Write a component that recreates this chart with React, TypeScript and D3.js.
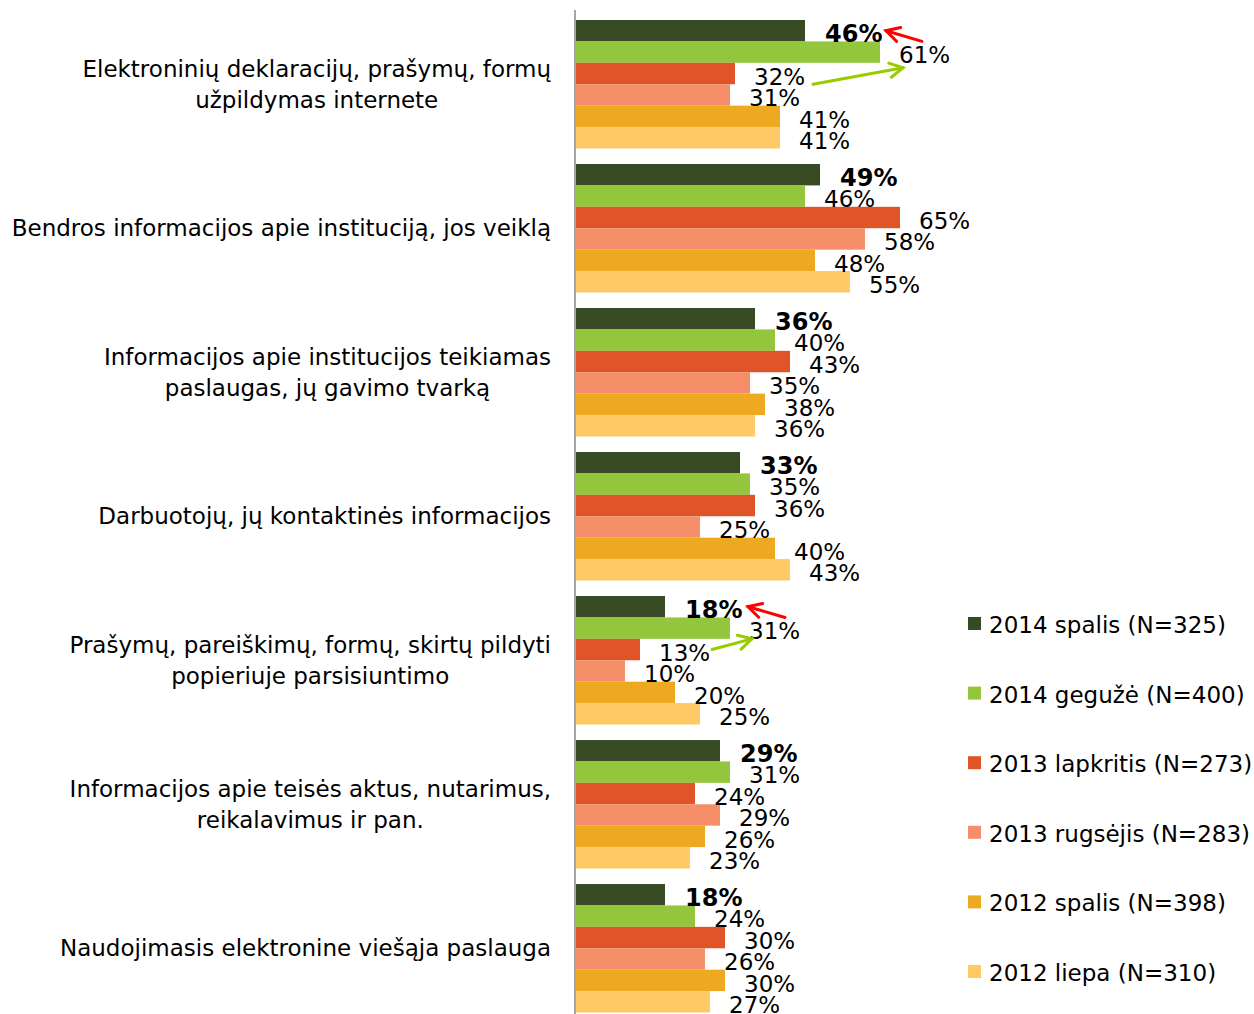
import React from "react";
import * as d3 from "d3";

const categories: string[][] = [
  ["Elektroninių deklaracijų, prašymų, formų", "užpildymas internete"],
  ["Bendros informacijos apie instituciją, jos veiklą"],
  ["Informacijos apie institucijos teikiamas", "paslaugas, jų gavimo tvarką"],
  ["Darbuotojų, jų kontaktinės informacijos"],
  ["Prašymų, pareiškimų, formų, skirtų pildyti", "popieriuje parsisiuntimo"],
  ["Informacijos apie teisės aktus, nutarimus,", "reikalavimus ir pan."],
  ["Naudojimasis elektronine viešąja paslauga"],
];

const seriesNames = [
  "2014 spalis (N=325)",
  "2014 gegužė (N=400)",
  "2013 lapkritis (N=273)",
  "2013 rugsėjis (N=283)",
  "2012 spalis (N=398)",
  "2012 liepa (N=310)",
];

const s2014Oct = [46, 49, 36, 33, 18, 29, 18];
const s2014May = [61, 46, 40, 35, 31, 31, 24];
const s2013Nov = [32, 65, 43, 36, 13, 24, 30];
const s2013Sep = [31, 58, 35, 25, 10, 29, 26];
const s2012Oct = [41, 48, 38, 40, 20, 26, 30];
const s2012Jul = [41, 55, 36, 43, 25, 23, 27];

const seriesValues = [s2014Oct, s2014May, s2013Nov, s2013Sep, s2012Oct, s2012Jul];
const colors = ["#374a23", "#93c63d", "#e05527", "#f68f69", "#eea923", "#ffc966"];

// arrow annotations: tail / tip anchored to a series' bar in a category, with offsets
const arrows = [
  { cat: 0, color: "#ff0000", tail: { s: 1, dx: 42, pos: "top" }, tip: { s: 0, dx: 81, pos: "center" } },
  { cat: 0, color: "#99cc00", tail: { s: 2, dx: 78, pos: "bottom" }, tip: { s: 1, dx: 23, pos: "bottom+5" } },
  { cat: 4, color: "#ff0000", tail: { s: 1, dx: 55, pos: "top" }, tip: { s: 0, dx: 83, pos: "center" } },
  { cat: 4, color: "#99cc00", tail: { s: 2, dx: 72, pos: "center" }, tip: { s: 1, dx: 22, pos: "bottom" } },
];

const W = 1254;
const H = 1014;
const FONT = "'DejaVu Sans', Verdana, sans-serif";

let measureCtx: CanvasRenderingContext2D | null = null;
function textWidth(s: string, size: number): number {
  if (!measureCtx) {
    const c = document.createElement("canvas");
    measureCtx = c.getContext("2d");
  }
  if (!measureCtx) return s.length * size * 0.58;
  measureCtx.font = `${size}px 'DejaVu Sans'`;
  return measureCtx.measureText(s).width;
}

export default function App() {
  const catIdx = categories.map((_, i) => String(i));
  const y = d3.scaleBand<string>().domain(catIdx).range([20, 1012.5]).paddingInner(0.108).paddingOuter(0);
  const yi = d3.scaleBand<string>().domain(seriesNames).range([0, y.bandwidth()]).padding(0);
  const x = d3.scaleLinear().domain([0, 100]).range([575, 1075]);

  const barTop = (c: number, s: number) => (y(String(c)) as number) + (yi(seriesNames[s]) as number);
  const bh = yi.bandwidth();

  const pointFor = (c: number, p: { s: number; dx: number; pos: string }) => {
    const v = seriesValues[p.s][c];
    const t = barTop(c, p.s);
    let yy = t + bh / 2;
    if (p.pos === "top") yy = t;
    if (p.pos === "bottom") yy = t + bh;
    if (p.pos === "bottom+5") yy = t + bh + 5;
    return [x(v) + p.dx, yy];
  };

  const legendY = d3.scalePoint<string>().domain(seriesNames).range([625, 973]);

  return (
    <svg width={W} height={H} style={{ position: "absolute", left: 0, top: 0, background: "#fff" }} fontFamily={FONT}>
      {/* bars */}
      {seriesValues.map((vals, s) =>
        vals.map((v, c) => (
          <rect key={`b${s}-${c}`} x={x(0)} y={barTop(c, s)} width={x(v) - x(0)} height={bh} fill={colors[s]} />
        ))
      )}
      {/* axis line */}
      <line x1={575} x2={575} y1={10} y2={H} stroke="#a6a6a6" strokeWidth={2} />
      {/* data labels */}
      {seriesValues.map((vals, s) =>
        vals.map((v, c) => (
          <text
            key={`l${s}-${c}`}
            x={x(v) + (s === 0 ? 20 : 19)}
            y={barTop(c, s) + bh + 0.5}
            fontSize={s === 0 ? 24 : 23}
            fontWeight={s === 0 ? "bold" : "normal"}
            fill="#000"
          >
            {v}%
          </text>
        ))
      )}
      {/* category labels: block right-aligned, lines centered within block */}
      {categories.map((lines, c) => {
        const center = (y(String(c)) as number) + y.bandwidth() / 2;
        const maxW = Math.max(...lines.map((ln) => textWidth(ln, 23)));
        const cx = 551 - maxW / 2;
        return (
          <text key={`c${c}`} textAnchor="middle" fontSize={23} fill="#000">
            {lines.map((ln, i) => (
              <tspan key={i} x={cx} y={center + 8 + (i - (lines.length - 1) / 2) * 31}>
                {ln}
              </tspan>
            ))}
          </text>
        );
      })}
      {/* arrows */}
      {arrows.map((a, i) => {
        const [x1, y1] = pointFor(a.cat, a.tail);
        const [x2, y2] = pointFor(a.cat, a.tip);
        const ang = Math.atan2(y2 - y1, x2 - x1);
        const L = 15;
        const sp = 0.5;
        const h1 = [x2 - L * Math.cos(ang - sp), y2 - L * Math.sin(ang - sp)];
        const h2 = [x2 - L * Math.cos(ang + sp), y2 - L * Math.sin(ang + sp)];
        return (
          <g key={`a${i}`} stroke={a.color} strokeWidth={3} fill="none" strokeLinecap="round">
            <line x1={x1} y1={y1} x2={x2} y2={y2} />
            <polyline points={`${h1[0]},${h1[1]} ${x2},${y2} ${h2[0]},${h2[1]}`} strokeLinejoin="miter" />
          </g>
        );
      })}
      {/* legend */}
      {seriesNames.map((n, s) => {
        const cy = legendY(n) as number;
        return (
          <g key={`lg${s}`}>
            <rect x={968} y={cy - 8} width={13} height={13} fill={colors[s]} />
            <text x={989} y={cy + 8} fontSize={23} fill="#000">
              {n}
            </text>
          </g>
        );
      })}
    </svg>
  );
}
